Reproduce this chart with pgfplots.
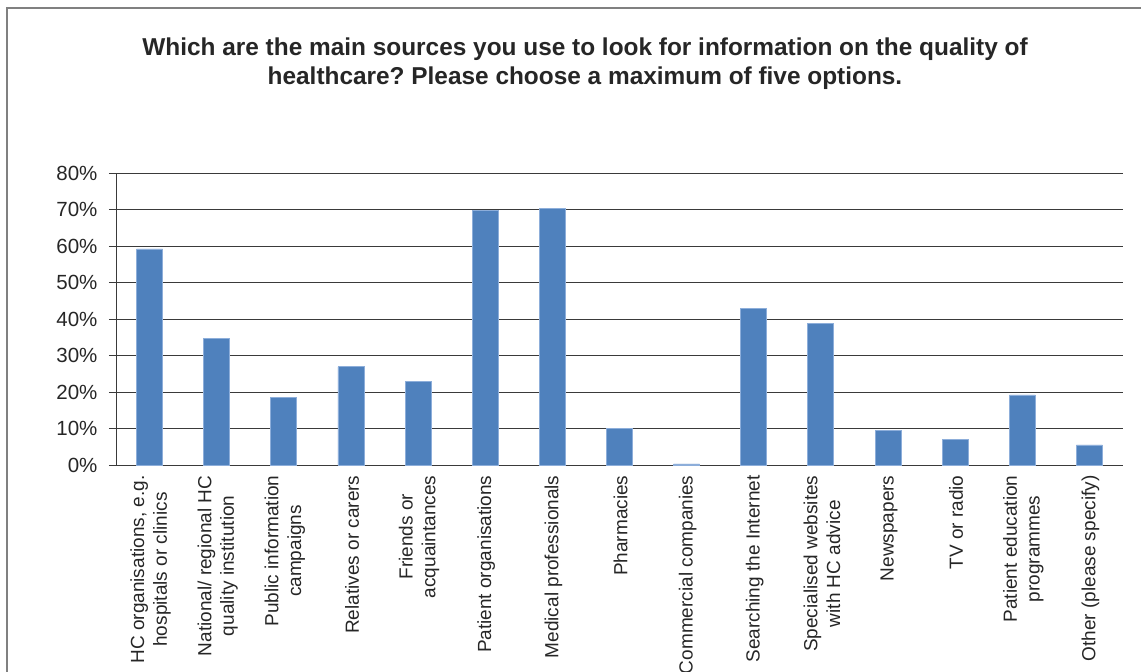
\documentclass[border=0pt]{standalone}
\usepackage{fontspec}
\setmainfont{Liberation Sans}
\usepackage{pgfplots}
\pgfplotsset{compat=1.18}
\definecolor{barblue}{HTML}{4F81BD}
\definecolor{baredge}{HTML}{8DAEDA}
\definecolor{txt}{HTML}{262626}
\definecolor{gridc}{HTML}{3A3A3A}
\frenchspacing
\begin{document}
\begin{tikzpicture}[x=1pt,y=1pt]
\useasboundingbox (0,0) rectangle (1141,672);
\draw[color=black!50, line width=1.2pt] (7,0) -- (7,664) -- (1141,664);
\node[align=center, font=\fontsize{24.4}{29.5}\selectfont\bfseries, text=txt] at (585,608.5)
  {Which are the main sources you use to look for information on the quality of\\healthcare? Please choose a maximum of five options.};
\begin{axis}[
  at={(116pt,207pt)}, anchor=south west,
  scale only axis, width=1007pt, height=292pt,
  xmin=-0.5, xmax=14.5, ymin=0, ymax=80,
  ytick={0,10,...,80},
  yticklabel={\pgfmathprintnumber{\tick}\%},
  /pgf/number format/assume math mode=true,
  ymajorgrids, grid style={gridc, line width=0.9pt},
  axis x line=bottom, axis y line=left,
  axis line style={gridc, line width=0.9pt, -},
  tick style={gridc, line width=0.9pt},
  tick align=outside,
  major tick length=7pt,
  xtick={0,...,14},
  x tick style={draw=none},
  minor xtick={-0.5,0.5,...,14.5},
  minor tick length=7pt,
  minor x tick style={gridc, line width=0.9pt},
  xticklabels={
    {HC organisations, e.g.\\hospitals or clinics},
    {National/ regional HC\\quality institution},
    {Public information\\campaigns},
    {Relatives or carers},
    {Friends or\\acquaintances},
    {Patient organisations},
    {Medical professionals},
    {Pharmacies},
    {Commercial companies},
    {Searching the Internet},
    {Specialised websites\\with HC advice},
    {Newspapers},
    {TV or radio},
    {Patient education\\programmes},
    {Other (please specify)}},
  xticklabel style={rotate=90, anchor=east, align=center, text=txt,
    font=\fontsize{19}{22.7}\selectfont, yshift=-1pt},
  yticklabel style={text=txt, font=\fontsize{20.5}{24}\selectfont, xshift=-8pt},
]
\addplot[ybar, bar width=26pt, fill=barblue, draw=baredge, line width=0.8pt]
  coordinates {(0,59.2) (1,34.7) (2,18.4) (3,26.9) (4,22.9) (5,69.7) (6,70.4)
    (7,10.0) (8,0.3) (9,42.9) (10,38.8) (11,9.4) (12,6.9) (13,19.2) (14,5.5)};
\end{axis}
\end{tikzpicture}
\end{document}
